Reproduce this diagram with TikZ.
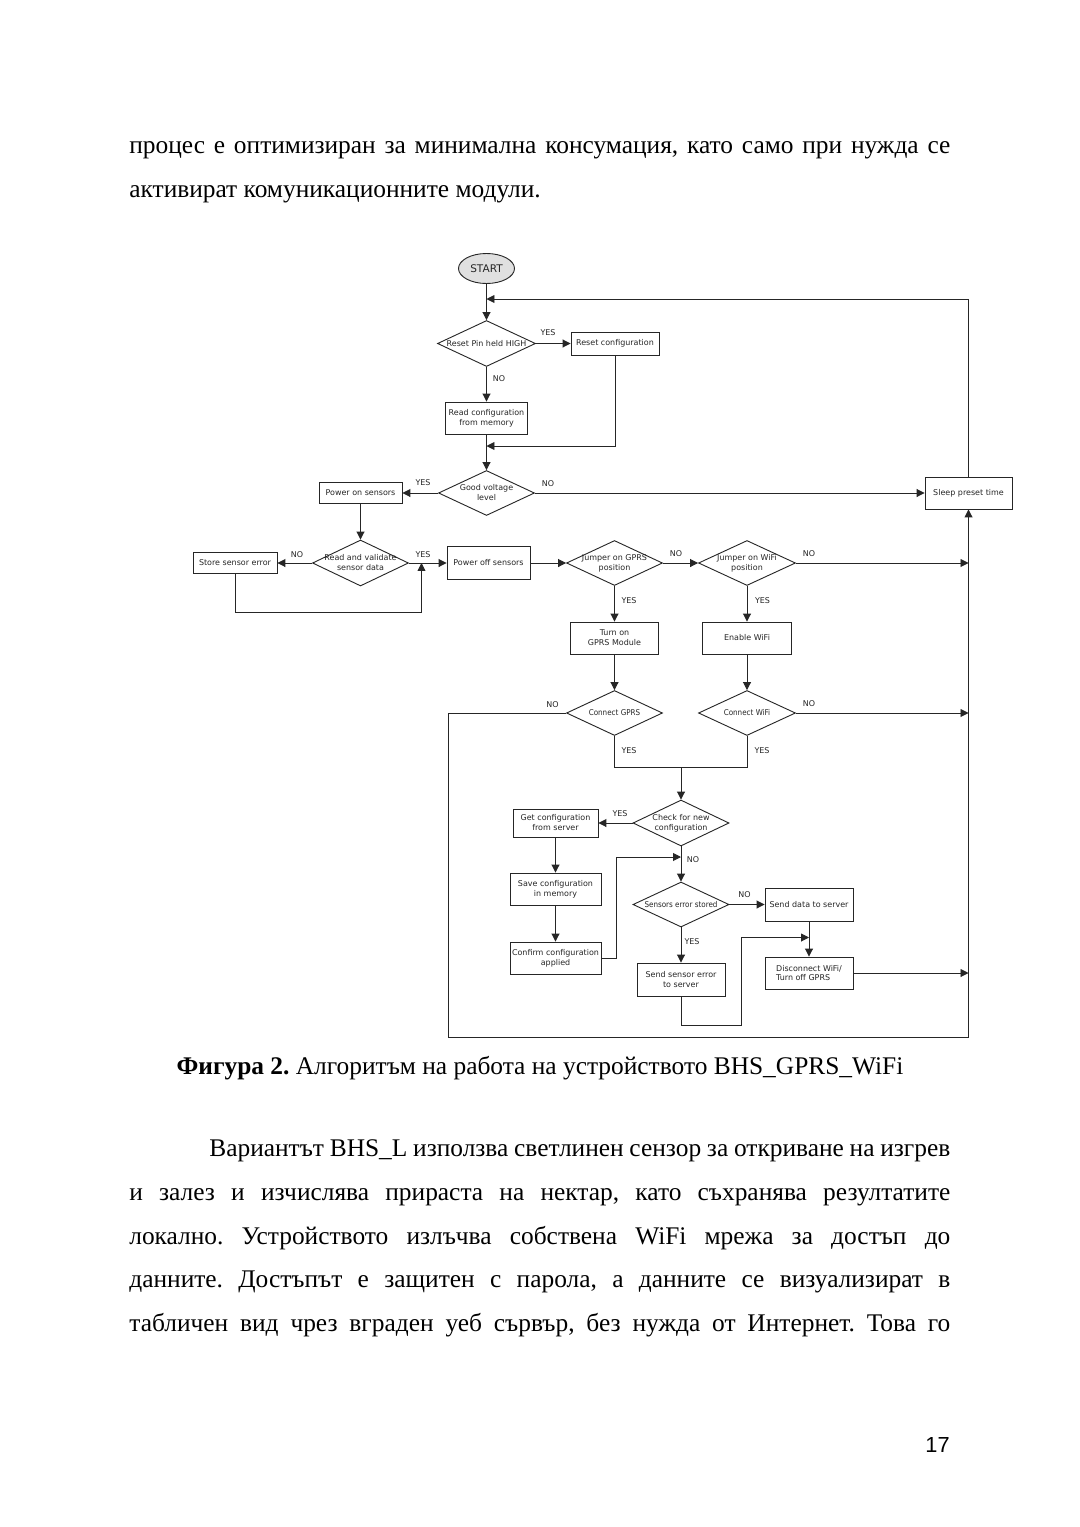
\documentclass[tikz,border=0pt]{standalone}
\usepackage{fontspec}
\setmainfont{Liberation Serif}
\newfontfamily\fcfont{DejaVu Sans}
\newfontfamily\fccfont{DejaVu Sans Condensed}
\newfontfamily\pgnfont{Liberation Sans}
\usetikzlibrary{shapes.geometric,arrows.meta}
\newdimen\pxu \pxu=0.55116pt
\frenchspacing
\tikzset{
 ln/.style={draw=black!85, line width=0.5pt},
 arr/.style={ln, -{Triangle[length=4.4pt,width=4.4pt]}},
 box/.style 2 args={draw=black!85, line width=0.5pt, rectangle, inner sep=0pt,
   minimum width=#1*\pxu, minimum height=#2*\pxu,
   font=\fcfont\fontsize{4.4}{5.5}\selectfont, align=center, text=black!85},
 dia/.style 2 args={draw=black!85, line width=0.5pt, diamond, inner sep=0pt,
   minimum width=#1*\pxu, minimum height=#2*\pxu},
 dtext/.style={font=\fcfont\fontsize{4.4}{5.5}\selectfont, align=center, text=black!85, inner sep=0pt},
 ctext/.style={font=\fccfont\fontsize{4.4}{5.5}\selectfont, align=center, text=black!85, inner sep=0pt},
 lab/.style={font=\fcfont\fontsize{4.4}{5.5}\selectfont, text=black!85, inner sep=0pt},
 body/.style={font=\frenchspacing\fontsize{14}{16}\selectfont, inner sep=0pt, anchor=base west},
}
\begin{document}
\begin{tikzpicture}[x=0.55116pt, y=-0.55116pt]
\fill[white] (0,0) rectangle (1080,1527);
\useasboundingbox (0,0) rectangle (1080,1527);

% ---------- page text ----------
\node[body] (t1) at (129,153) {\makebox[821\pxu][s]{процес е оптимизиран за минимална консумация, като само при нужда се}};
\node[body] (t2) at (129,197) {активират комуникационните модули.};
\node[font=\frenchspacing\fontsize{14}{16}\selectfont, inner sep=0pt, anchor=base] (cap) at (540,1074)
  {\textbf{Фигура 2.} Алгоритъм на работа на устройството BHS\_GPRS\_WiFi};
\node[body] (p1) at (209,1156) {\makebox[741\pxu][s]{Вариантът BHS\_L използва светлинен сензор за откриване на изгрев}};
\node[body] (p2) at (129,1200) {\makebox[821\pxu][s]{и залез и изчислява прираста на нектар, като съхранява резултатите}};
\node[body] (p3) at (129,1244) {\makebox[821\pxu][s]{локално. Устройството излъчва собствена WiFi мрежа за достъп до}};
\node[body] (p4) at (129,1287) {\makebox[821\pxu][s]{данните. Достъпът е защитен с парола, а данните се визуализират в}};
\node[body] (p5) at (129,1331) {\makebox[821\pxu][s]{табличен вид чрез вграден уеб сървър, без нужда от Интернет. Това го}};
\node[font=\pgnfont\fontsize{12}{14}\selectfont, inner sep=0pt, anchor=base east] (pg) at (950,1452) {17};

% ---------- flowchart nodes ----------
\node[ellipse, draw=black!85, line width=0.5pt, fill=black!12, minimum width=56*\pxu, minimum height=30*\pxu,
  inner sep=0pt, font=\fcfont\fontsize{5.8}{7}\selectfont, text=black!85] (start) at (486.5,268.5) {START};

\node[dia={98}{46}, label={[dtext]center:{Reset Pin held HIGH}}] (d1) at (486.5,343.5) {};
\node[box={88}{23}] (reset) at (615,343.5) {Reset configuration};
\node[box={82}{32}] (readcfg) at (486.5,418) {Read configuration\\from memory};
\node[dia={96}{45}, label={[dtext]center:{Good voltage\\level}}] (d2) at (486.5,493) {};
\node[box={83}{21}] (pon) at (360.5,493) {Power on sensors};
\node[box={87}{32}] (sleep) at (968.5,493) {Sleep preset time};

\node[dia={96}{46}, label={[dtext]center:{Read and validate\\sensor data}}] (d3) at (360.5,563) {};
\node[box={84}{21}] (store) at (235,563) {Store sensor error};
\node[box={83}{33}] (poff) at (488.5,563) {Power off sensors};
\node[dia={96}{45}, label={[dtext]center:{Jumper on GPRS\\position}}] (jg) at (614.5,563) {};
\node[dia={97}{45}, label={[dtext]center:{Jumper on WiFi\\position}}] (jw) at (747,563) {};

\node[box={88}{32}] (gprs) at (614.5,638) {Turn on\\GPRS Module};
\node[box={89}{32}] (wifi) at (747,638) {Enable WiFi};
\node[dia={96}{45}, label={[ctext]center:{Connect GPRS}}] (cg) at (614.5,713) {};
\node[dia={97}{45}, label={[ctext]center:{Connect WiFi}}] (cw) at (747,713) {};

\node[dia={96}{46}, label={[dtext]center:{Check for new\\configuration}}] (chk) at (681,823) {};
\node[box={85}{28}] (getc) at (555.5,823) {Get configuration\\from server};
\node[box={91}{32}] (savec) at (555.5,889) {Save configuration\\in memory};
\node[box={91}{32}] (conf) at (555.5,958) {Confirm configuration\\applied};
\node[dia={96}{45}, label={[ctext]center:{Sensors error stored}}] (serr) at (681,904.5) {};
\node[box={88}{33}] (sdata) at (809,904.5) {Send data to server};
\node[box={88}{33}] (sse) at (681,979.5) {Send sensor error\\to server};
\node[box={88}{32}, align=left] (disc) at (809,973) {Disconnect WiFi/\\Turn off GPRS};

% ---------- helper coordinates ----------
\coordinate (m1) at (486.5,299);
\coordinate (m2) at (486.5,446);
\coordinate (m3) at (421.5,563);
\coordinate (m4) at (968.5,563);
\coordinate (m5) at (968.5,713);
\coordinate (c1) at (448,1037);
\coordinate (j) at (681,767);
\coordinate (m6) at (681,857);
\coordinate (m7) at (809,937.5);
\coordinate (m8) at (968.5,973);

% ---------- connectors ----------
\draw[arr] (start) -- (d1);
\draw[arr] (sleep.north) |- (m1);
\draw[arr] (d1.east) -- (reset.west);
\draw[arr] (d1.south) -- (readcfg.north);
\draw[arr] (reset.south) |- (m2);
\draw[arr] (readcfg.south) -- (d2.north);
\draw[arr] (d2.west) -- (pon.east);
\draw[arr] (d2.east) -- (sleep.west);
\draw[arr] (pon.south) -- (d3.north);
\draw[arr] (d3.west) -- (store.east);
\draw[arr] (store.south) -- ++(0,38.5) -| (m3);
\draw[arr] (d3.east) -- (poff.west);
\draw[arr] (poff.east) -- (jg.west);
\draw[arr] (jg.east) -- (jw.west);
\draw[arr] (jw.east) -- (m4);
\draw[arr] (jg.south) -- (gprs.north);
\draw[arr] (jw.south) -- (wifi.north);
\draw[arr] (gprs.south) -- (cg.north);
\draw[arr] (wifi.south) -- (cw.north);
\draw[arr] (cg.west) -| (c1) -| (sleep.south);
\draw[arr] (cw.east) -- (m5);
\draw[ln] (cg.south) |- (j);
\draw[ln] (cw.south) |- (j);
\draw[arr] (j) -- (chk.north);
\draw[arr] (chk.west) -- (getc.east);
\draw[arr] (getc.south) -- (savec.north);
\draw[arr] (savec.south) -- (conf.north);
\draw[arr] (conf.east) -- ++(15,0) |- (m6);
\draw[arr] (chk.south) -- (serr.north);
\draw[arr] (serr.east) -- (sdata.west);
\draw[arr] (serr.south) -- (sse.north);
\draw[arr] (sse.south) -- ++(0,29) -- ++(60,0) |- (m7);
\draw[arr] (sdata.south) -- (disc.north);
\draw[arr] (disc.east) -- (m8);

% ---------- branch labels ----------
\node[lab] (l1) at (548,333) {YES};
\node[lab] (l2) at (499,379) {NO};
\node[lab] (l3) at (423,483) {YES};
\node[lab] (l4) at (548,484) {NO};
\node[lab] (l5) at (297,555) {NO};
\node[lab] (l6) at (423,555) {YES};
\node[lab] (l7) at (676,554) {NO};
\node[lab] (l8) at (809,554) {NO};
\node[lab] (l9) at (629,600.5) {YES};
\node[lab] (l10) at (762.5,600.5) {YES};
\node[lab] (l11) at (552.5,704.5) {NO};
\node[lab] (l12) at (809,704) {NO};
\node[lab] (l13) at (629,750.5) {YES};
\node[lab] (l14) at (762,750.5) {YES};
\node[lab] (l15) at (620,814) {YES};
\node[lab] (l16) at (693,859.5) {NO};
\node[lab] (l17) at (744.5,894.5) {NO};
\node[lab] (l18) at (692,942) {YES};
\end{tikzpicture}
\end{document}
